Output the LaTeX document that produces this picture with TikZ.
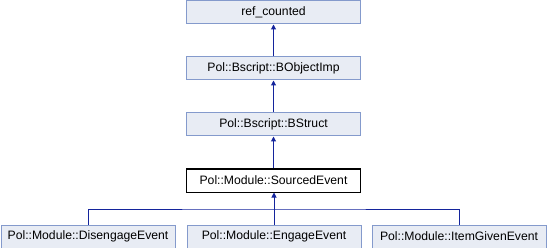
\documentclass[tikz,border=0pt]{standalone}
\usepackage{fontspec}
\setmainfont{Liberation Sans}
\usetikzlibrary{arrows.meta}

\definecolor{boxfill}{RGB}{232,236,244}
\definecolor{boxline}{RGB}{132,154,204}
\definecolor{edgeblue}{RGB}{20,36,156}

\tikzset{
  classbox/.style={draw=boxline, fill=boxfill, line width=1pt, minimum width=174pt,
                   minimum height=23pt, inner sep=0pt},
  thisbox/.style={classbox, draw=black, fill=white},
  inherit/.style={draw=edgeblue, line width=1pt, -{Triangle[width=5pt,length=5pt]}},
  bus/.style={draw=edgeblue, line width=1pt}
}

\begin{document}
\begin{tikzpicture}[x=1pt, y=-1pt, font=\fontsize{12.2}{14}\selectfont]
\useasboundingbox (0,0) rectangle (548,248);
\node[classbox] (refcnt) at (273.5,12.5) {ref\_counted};
\node[classbox] (objimp) at (273.5,68.5) {Pol::Bscript::BObjectImp};
\node[classbox] (bstruct) at (273.5,124.5) {Pol::Bscript::BStruct};
\node[thisbox] (sourced) at (273.5,180.5) {Pol::Module::SourcedEvent};
\node[classbox] (disengage) at (88,236.5) {Pol::Module::DisengageEvent};
\node[classbox] (engage) at (274,236.5) {Pol::Module::EngageEvent};
\node[classbox] (itemgiven) at (459,236.5) {Pol::Module::ItemGivenEvent};
\coordinate (busmid) at (274,209);
% inheritance edges
\draw[inherit] (objimp.north) -- (refcnt.south);
\draw[inherit] (bstruct.north) -- (objimp.south);
\draw[inherit] (sourced.north) -- (bstruct.south);
\draw[bus] (disengage.north) |- (busmid) -| (itemgiven.north);
\draw[inherit] (engage.north) -- (engage.north |- sourced.south);
\end{tikzpicture}
\end{document}
